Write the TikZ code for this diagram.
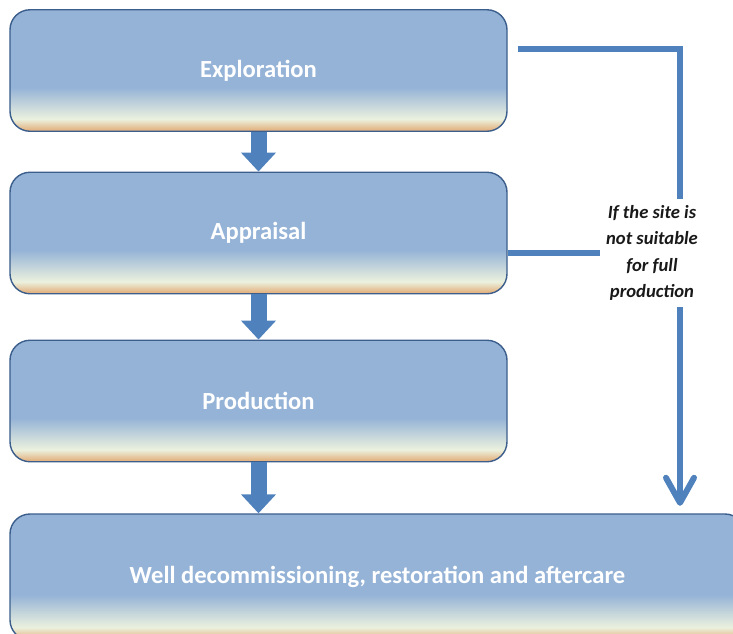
\documentclass[tikz,border=0pt]{standalone}
\usepackage{fontspec}
\setmainfont{Carlito}
\usetikzlibrary{arrows.meta,positioning}
\definecolor{stageblue}{HTML}{95B3D7}
\definecolor{stagepale}{HTML}{EBF1DE}
\definecolor{stagetan}{HTML}{E3B585}
\definecolor{stageedge}{HTML}{3B5E8C}
\definecolor{flowblue}{HTML}{4F81BD}
\pgfdeclareverticalshading{stageshade}{100bp}{color(0bp)=(stagetan); color(25.8bp)=(stagetan); color(30bp)=(stagepale); color(43bp)=(stageblue); color(100bp)=(stageblue)}

\begin{document}
\begin{tikzpicture}[
    stage/.style={shade, shading=stageshade, draw=stageedge, line width=0.8pt, rounded corners=0.4cm,
      minimum width=9.94cm, minimum height=2.43cm, text=white, font=\bfseries\fontsize{14}{17}\selectfont},
    stepflow/.style={flowblue, line width=0.32cm, -{Triangle[width=0.68cm,length=0.38cm]}},
    loopline/.style={flowblue, line width=0.12cm},
  ]
    \clip (0,0) rectangle (14.66,-12.66);
    \node[stage] (explore) at (5.17,-1.41) {Exploration};
    \node[stage] (appraise) at (5.17,-4.66) {Appraisal};
    \node[stage] (produce) at (5.17,-8.02) {Production};
    \node[stage, minimum width=14.7cm, minimum height=2.52cm] (decom) at (7.55,-11.54) {Well decommissioning, restoration and aftercare};
    \node[font=\bfseries\itshape\fontsize{10.6}{15.1}\selectfont, align=center, text=black!90] (note) at (13.04,-5.06) {If the site is\\not suitable\\for full\\production};
    \coordinate (bend) at (13.6,-0.98);
    \draw[stepflow] (explore) -- (appraise);
    \draw[stepflow] (appraise) -- (produce);
    \draw[stepflow] (produce.south) -- (produce.south |- decom.north);
    \draw[loopline] ([xshift=0.2cm]bend -| explore.east) -- (bend) -- (bend |- note.north);
    \draw[loopline] (appraise.east |- note.west) -- (note.west);
    \draw[loopline, -{Straight Barb[round,length=0.5cm,width=0.56cm]}, shorten >=0.15cm] (bend |- note.south) -- (bend |- decom.north);
\end{tikzpicture}
\end{document}
